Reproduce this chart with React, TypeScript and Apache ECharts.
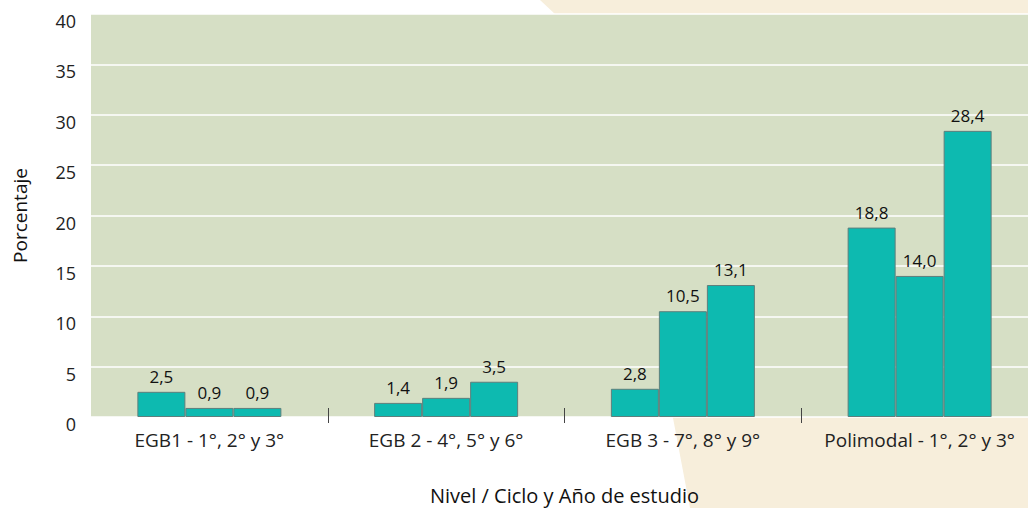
import React, { useEffect, useRef } from "react";
import * as echarts from "echarts";

const categories = [
  "EGB1 - 1°, 2° y 3°",
  "EGB 2 - 4°, 5° y 6°",
  "EGB 3 - 7°, 8° y 9°",
  "Polimodal - 1°, 2° y 3°",
];
const firstYear = [2.5, 1.4, 2.8, 18.8];
const secondYear = [0.9, 1.9, 10.5, 14.0];
const thirdYear = [0.9, 3.5, 13.1, 28.4];
const yTicks = { min: 0, max: 40, interval: 5 };

const FONT = "'Open Sans', 'Noto Sans', sans-serif";

export default function App() {
  const ref = useRef<HTMLDivElement>(null);
  useEffect(() => {
    if (!ref.current) return;
    const chart = echarts.init(ref.current, undefined, { renderer: "svg" });
    const mkSeries = (name: string, data: number[]) => ({
      name,
      type: "bar",
      data,
      barWidth: 48,
      barGap: "0%",
      itemStyle: { color: "#0dbab0", borderColor: "#5e7f7c", borderWidth: 1 },
      label: {
        show: true,
        position: "top",
        distance: 7,
        fontFamily: FONT,
        fontSize: 17,
        color: "#111",
        formatter: (p: any) => p.value.toFixed(1).replace(".", ","),
      },
    });
    chart.setOption({
      animation: false,
      backgroundColor: "#ffffff",
      textStyle: { fontFamily: FONT },
      graphic: [
        {
          type: "polygon",
          z: -100,
          silent: true,
          shape: {
            points: [
              [540, 0],
              [556, 15],
              [673, 418],
              [690, 508],
              [1028, 508],
              [1028, 0],
            ],
          },
          style: { fill: "#f7eedb" },
        },
      ],
      grid: {
        left: 91,
        right: -10,
        top: 14,
        bottom: 91,
        show: true,
        backgroundColor: "#d6dfc5",
        borderWidth: 0,
        outerBoundsMode: "none",
        containLabel: false,
      },
      xAxis: [
        {
          type: "category",
          data: categories,
          name: "Nivel / Ciclo y Año de estudio",
          nameLocation: "middle",
          nameGap: 68,
          nameTextStyle: { fontFamily: FONT, fontSize: 20, color: "#111" },
          axisLine: { show: false },
          axisTick: {
            show: true,
            inside: true,
            length: 9,
            interval: (i: number) => i > 0,
            lineStyle: { color: "#444", width: 1 },
          },
          axisLabel: {
            interval: 0,
            hideOverlap: false,
            fontFamily: FONT,
            fontSize: 19,
            color: "#222",
            margin: 13,
          },
        },
        {
          type: "category",
          data: categories,
          position: "bottom",
          axisLine: { show: false },
          axisTick: {
            show: true,
            inside: false,
            length: 6,
            interval: (i: number) => i > 0,
            lineStyle: { color: "#444", width: 1 },
          },
          axisLabel: { show: false },
        },
      ],
      yAxis: {
        type: "value",
        min: yTicks.min,
        max: yTicks.max,
        interval: yTicks.interval,
        name: "Porcentaje",
        nameLocation: "middle",
        nameGap: 62,
        nameTextStyle: { fontFamily: FONT, fontSize: 19, color: "#111" },
        axisLine: { show: false },
        axisTick: { show: false },
        axisLabel: {
          fontFamily: FONT,
          fontSize: 18,
          color: "#222",
          margin: 15,
          verticalAlign: "top",
          lineHeight: 14,
        },
        splitLine: { lineStyle: { color: "#ffffff", width: 1.5 } },
      },
      series: [
        mkSeries("1°", firstYear),
        mkSeries("2°", secondYear),
        mkSeries("3°", thirdYear),
      ],
    });
    return () => chart.dispose();
  }, []);
  return (
    <div
      ref={ref}
      style={{ position: "fixed", left: 0, top: 0, width: 1028, height: 508 }}
    />
  );
}
